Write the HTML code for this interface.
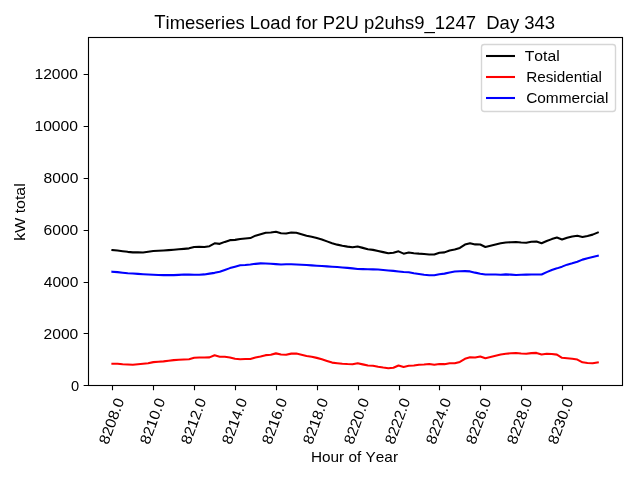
<!DOCTYPE html>
<html><head><meta charset="utf-8"><style>
html,body{margin:0;padding:0;background:#fff;width:640px;height:480px;overflow:hidden}
svg{display:block;will-change:transform}
text{font-family:"Liberation Sans",sans-serif;fill:#000;font-kerning:none}
</style></head><body>
<svg width="640" height="480" viewBox="0 0 640 480">
<rect x="0" y="0" width="640" height="480" fill="#ffffff"/>
<g fill="none" stroke-width="2.0833" stroke-linecap="square" stroke-linejoin="round">
<polyline stroke="#000000" points="112.42,250.05 117.53,250.58 122.64,251.18 127.75,251.84 132.85,252.36 137.96,252.41 143.07,252.43 148.18,251.71 153.29,251.03 158.40,250.77 163.51,250.51 168.62,250.15 173.73,249.78 178.84,249.33 183.95,248.88 189.05,248.35 194.16,247.07 199.27,246.81 204.38,246.92 209.49,246.16 214.60,243.31 219.71,243.84 224.82,241.89 229.93,240.16 235.04,239.87 240.15,239.03 245.25,238.48 250.36,238.08 255.47,235.68 260.58,234.17 265.69,232.74 270.80,232.49 275.91,231.71 281.02,233.17 286.13,233.43 291.24,232.52 296.35,232.68 301.45,234.14 306.56,235.67 311.67,236.81 316.78,238.10 321.89,239.56 327.00,241.37 332.11,243.26 337.22,244.64 342.33,245.80 347.44,246.65 352.55,247.31 357.65,246.49 362.76,247.87 367.87,249.27 372.98,249.87 378.09,250.97 383.20,252.13 388.31,253.18 393.42,252.80 398.53,251.36 403.64,253.67 408.75,252.45 413.85,253.18 418.96,253.66 424.07,253.97 429.18,254.42 434.29,254.57 439.40,252.80 444.51,252.37 449.62,250.41 454.73,249.53 459.84,247.90 464.95,244.52 470.05,243.26 475.16,244.40 480.27,244.55 485.38,246.94 490.49,245.66 495.60,244.44 500.71,243.30 505.82,242.52 510.93,242.22 516.04,242.01 521.15,242.52 526.25,242.79 531.36,241.82 536.47,241.42 541.58,243.18 546.69,240.98 551.80,239.11 556.91,237.55 562.02,239.45 567.13,237.65 572.24,236.46 577.35,235.73 582.45,237.02 587.56,235.92 592.67,234.62 597.78,232.50"/>
<polyline stroke="#ff0000" points="112.42,363.70 117.53,363.70 122.64,364.19 127.75,364.49 132.85,364.70 137.96,364.27 143.07,363.81 148.18,363.29 153.29,362.14 158.40,361.71 163.51,361.37 168.62,360.74 173.73,360.14 178.84,359.80 183.95,359.45 189.05,359.24 194.16,357.79 199.27,357.55 204.38,357.55 209.49,357.41 214.60,355.28 219.71,356.67 224.82,356.70 229.93,357.47 235.04,358.76 240.15,359.18 245.25,359.08 250.36,358.95 255.47,357.54 260.58,356.56 265.69,355.13 270.80,354.74 275.91,353.37 281.02,354.42 286.13,354.67 291.24,353.63 296.35,353.55 301.45,354.70 306.56,355.93 311.67,356.79 316.78,357.88 321.89,359.19 327.00,360.90 332.11,362.60 337.22,363.19 342.33,363.70 347.44,364.07 352.55,364.30 357.65,363.25 362.76,364.36 367.87,365.48 372.98,365.72 378.09,366.82 383.20,367.58 388.31,368.18 393.42,367.72 398.53,365.46 403.64,366.92 408.75,365.79 413.85,365.51 418.96,364.74 424.07,364.52 429.18,363.96 434.29,364.83 439.40,364.09 444.51,364.16 449.62,363.23 454.73,363.31 459.84,361.89 464.95,358.84 470.05,357.36 475.16,357.54 480.27,356.48 485.38,358.19 490.49,357.01 495.60,355.73 500.71,354.41 505.82,353.72 510.93,353.31 516.04,353.01 521.15,353.52 526.25,353.83 531.36,353.12 536.47,352.88 541.58,354.43 546.69,353.72 551.80,353.95 556.91,354.61 562.02,357.78 567.13,358.29 572.24,358.77 577.35,359.57 582.45,362.31 587.56,362.95 592.67,363.28 597.78,362.37"/>
<polyline stroke="#0000ff" points="112.42,271.70 117.53,272.16 122.64,272.67 127.75,273.18 132.85,273.53 137.96,273.87 143.07,274.21 148.18,274.50 153.29,274.79 158.40,275.06 163.51,275.11 168.62,275.16 173.73,275.15 178.84,274.84 183.95,274.54 189.05,274.60 194.16,274.80 199.27,274.67 204.38,274.41 209.49,273.63 214.60,272.85 219.71,271.71 224.82,269.91 229.93,268.12 235.04,266.68 240.15,265.27 245.25,264.97 250.36,264.52 255.47,263.84 260.58,263.37 265.69,263.47 270.80,263.81 275.91,264.15 281.02,264.44 286.13,264.32 291.24,264.21 296.35,264.47 301.45,264.76 306.56,265.05 311.67,265.38 316.78,265.73 321.89,266.07 327.00,266.40 332.11,266.73 337.22,267.08 342.33,267.43 347.44,267.86 352.55,268.39 357.65,268.92 362.76,269.10 367.87,269.25 372.98,269.40 378.09,269.57 383.20,270.01 388.31,270.45 393.42,270.91 398.53,271.45 403.64,272.00 408.75,272.22 413.85,273.24 418.96,274.05 424.07,274.76 429.18,275.18 434.29,275.28 439.40,274.17 444.51,273.62 449.62,272.51 454.73,271.58 459.84,271.25 464.95,271.14 470.05,271.41 475.16,272.64 480.27,273.67 485.38,274.46 490.49,274.51 495.60,274.56 500.71,274.80 505.82,274.37 510.93,274.64 516.04,274.92 521.15,274.79 526.25,274.60 531.36,274.45 536.47,274.45 541.58,274.45 546.69,272.09 551.80,269.92 556.91,268.37 562.02,266.65 567.13,264.64 572.24,263.24 577.35,261.67 582.45,259.63 587.56,258.25 592.67,257.00 597.78,255.82"/>
</g>
<rect x="88.5" y="37.5" width="534.0" height="348.0" fill="none" stroke="#000" stroke-width="1.1111" stroke-linejoin="miter"/>
<path d="M112.5 385.5V390.36 M153.5 385.5V390.36 M194.5 385.5V390.36 M235.5 385.5V390.36 M276.5 385.5V390.36 M317.5 385.5V390.36 M358.5 385.5V390.36 M399.5 385.5V390.36 M439.5 385.5V390.36 M480.5 385.5V390.36 M521.5 385.5V390.36 M562.5 385.5V390.36 M88.5 385.5H83.64 M88.5 333.5H83.64 M88.5 282.5H83.64 M88.5 230.5H83.64 M88.5 178.5H83.64 M88.5 126.5H83.64 M88.5 74.5H83.64" stroke="#000" stroke-width="1.1111" fill="none"/>
<rect x="481.5" y="44.5" width="134" height="67" rx="2.8" ry="2.8" fill="#ffffff" fill-opacity="0.8" stroke="#cccccc" stroke-opacity="0.8" stroke-width="1.3889"/>
<g stroke-width="2.0833" stroke-linecap="butt">
<path d="M486 56H515" stroke="#000000"/>
<path d="M486 77H515" stroke="#ff0000"/>
<path d="M486 98H515" stroke="#0000ff"/>
</g>
<text transform="translate(354.600,24.200) rotate(0.02) translate(-199.886,4.366) translate(-0.049,0) scale(1.1101,1.0485) translate(-0.374,0)" font-size="16.667">Timeseries Load for P2U p2uhs9_1247  Day 343</text>
<text transform="translate(355.000,456.500) rotate(0.02) translate(-44.142,5.178) translate(1.363,0) scale(1.1058,1.0499) translate(-1.139,0)" font-size="13.889">Hour of Year</text>
<text transform="translate(19.500,212.000) rotate(-90) translate(-28.954,5.178) translate(1.261,0) scale(1.1467,1.0485) translate(-0.936,0)" font-size="13.889">kW total</text>
<text transform="translate(111.500,421.000) rotate(-70) translate(-24.309,5.056) translate(0.943,0) scale(1.1306,1.0629) translate(-0.604,0)" font-size="13.889">8208.0</text>
<text transform="translate(152.500,421.000) rotate(-70) translate(-24.309,5.056) translate(0.943,0) scale(1.1306,1.0629) translate(-0.604,0)" font-size="13.889">8210.0</text>
<text transform="translate(193.500,421.000) rotate(-70) translate(-24.309,5.056) translate(0.943,0) scale(1.1306,1.0629) translate(-0.604,0)" font-size="13.889">8212.0</text>
<text transform="translate(234.500,421.000) rotate(-70) translate(-24.309,5.056) translate(0.943,0) scale(1.1306,1.0629) translate(-0.604,0)" font-size="13.889">8214.0</text>
<text transform="translate(274.500,421.000) rotate(-70) translate(-24.309,5.056) translate(0.943,0) scale(1.1306,1.0629) translate(-0.604,0)" font-size="13.889">8216.0</text>
<text transform="translate(315.500,421.000) rotate(-70) translate(-24.309,5.056) translate(0.943,0) scale(1.1306,1.0629) translate(-0.604,0)" font-size="13.889">8218.0</text>
<text transform="translate(356.500,421.000) rotate(-70) translate(-24.309,5.056) translate(0.943,0) scale(1.1306,1.0629) translate(-0.604,0)" font-size="13.889">8220.0</text>
<text transform="translate(397.500,421.000) rotate(-70) translate(-24.309,5.056) translate(0.943,0) scale(1.1306,1.0629) translate(-0.604,0)" font-size="13.889">8222.0</text>
<text transform="translate(438.500,421.000) rotate(-70) translate(-24.309,5.056) translate(0.943,0) scale(1.1306,1.0629) translate(-0.604,0)" font-size="13.889">8224.0</text>
<text transform="translate(478.500,421.000) rotate(-70) translate(-24.309,5.056) translate(0.943,0) scale(1.1306,1.0629) translate(-0.604,0)" font-size="13.889">8226.0</text>
<text transform="translate(519.500,421.000) rotate(-70) translate(-24.309,5.056) translate(0.943,0) scale(1.1306,1.0629) translate(-0.604,0)" font-size="13.889">8228.0</text>
<text transform="translate(560.500,421.000) rotate(-70) translate(-24.309,5.056) translate(0.943,0) scale(1.1306,1.0629) translate(-0.604,0)" font-size="13.889">8230.0</text>
<text transform="translate(75.000,386.000) rotate(0.02) translate(-4.415,5.056) translate(0.916,0) scale(1.0541,1.0629) translate(-0.543,0)" font-size="13.889">0</text>
<text transform="translate(61.000,334.000) rotate(0.02) translate(-17.721,5.056) translate(1.017,0) scale(1.1265,1.0629) translate(-0.699,0)" font-size="13.889">2000</text>
<text transform="translate(61.000,282.000) rotate(0.02) translate(-17.551,5.056) translate(0.678,0) scale(1.1235,1.0629) translate(-0.319,0)" font-size="13.889">4000</text>
<text transform="translate(61.000,230.000) rotate(0.02) translate(-17.697,5.056) translate(0.970,0) scale(1.1283,1.0629) translate(-0.705,0)" font-size="13.889">6000</text>
<text transform="translate(61.000,178.000) rotate(0.02) translate(-17.683,5.056) translate(0.943,0) scale(1.1254,1.0629) translate(-0.604,0)" font-size="13.889">8000</text>
<text transform="translate(56.500,126.000) rotate(0.02) translate(-22.393,5.056) translate(1.526,0) scale(1.1273,1.0629) translate(-1.058,0)" font-size="13.889">10000</text>
<text transform="translate(56.500,74.000) rotate(0.02) translate(-22.393,5.056) translate(1.526,0) scale(1.1273,1.0629) translate(-1.058,0)" font-size="13.889">12000</text>
<text transform="translate(541.900,55.500) rotate(0.02) translate(-16.727,5.178) translate(-0.041,0) scale(1.1316,1.0485) translate(-0.312,0)" font-size="13.889">Total</text>
<text transform="translate(564.130,76.500) rotate(0.02) translate(-38.105,5.178) translate(1.363,0) scale(1.1026,1.0485) translate(-1.139,0)" font-size="13.889">Residential</text>
<text transform="translate(567.150,97.500) rotate(0.02) translate(-40.969,5.178) translate(0.780,0) scale(1.1095,1.0485) translate(-0.705,0)" font-size="13.889">Commercial</text>
</svg>
</body></html>
